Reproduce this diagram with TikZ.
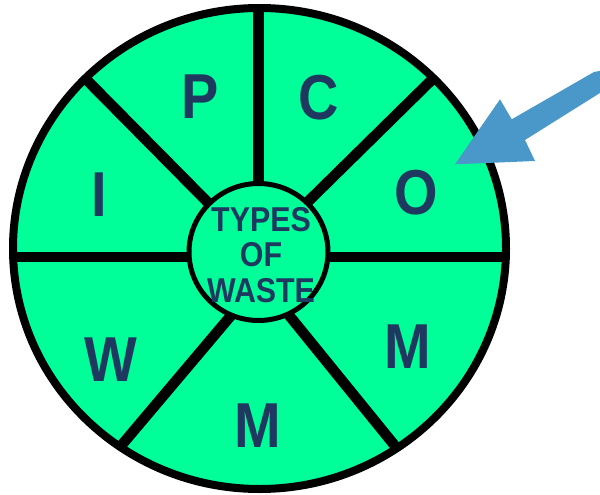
\documentclass[tikz,border=0pt]{standalone}
\usepackage{fontspec}
\newfontfamily\lbl{Liberation Sans}[FakeStretch=0.88, BoldFont=Liberation Sans Bold, BoldFeatures={FakeStretch=0.88}]
\definecolor{wheelgreen}{RGB}{0,255,153}
\definecolor{navy}{RGB}{31,56,96}
\definecolor{arrowblue}{RGB}{74,152,201}
\tikzset{
  spoke/.style={line width=10.5pt, black},
  letter/.style={inner sep=0pt, text=navy, font=\lbl\bfseries\fontsize{63.5}{63.5}\selectfont},
  hubtext/.style={inner sep=0pt, text=navy, align=center, font=\lbl\bfseries\fontsize{34.5}{35.5}\selectfont}
}
\begin{document}
\begin{tikzpicture}[x=1pt,y=-1pt]
\useasboundingbox (0,0) rectangle (600,495);
% outer wheel
\coordinate (c) at (259.5,248.5);
\coordinate (h) at (258.5,252);
\fill[wheelgreen] (c) ellipse [x radius=246.5, y radius=240.5];
\begin{scope}
  \clip (c) ellipse [x radius=246.5, y radius=240.5];
  \coordinate (v1) at (258.5,252); \coordinate (v2) at (258.5,0);
  \coordinate (hl) at (0,257); \coordinate (hr) at (520,257);
  \coordinate (ul1) at (244,239); \coordinate (ul2) at (63,56);
  \coordinate (ur1) at (274,235); \coordinate (ur2) at (454,58);
  \coordinate (ll1) at (272,267); \coordinate (ll2) at (100.6,470);
  \coordinate (lr1) at (249,266); \coordinate (lr2) at (417,473);
  \draw[spoke] (v1) -- (v2);
  \draw[spoke] (hl) -- (hr);
  \draw[spoke] (ul1) -- (ul2);
  \draw[spoke] (ur1) -- (ur2);
  \draw[spoke] (ll1) -- (ll2);
  \draw[spoke] (lr1) -- (lr2);
\end{scope}
\draw[line width=8pt] (c) ellipse [x radius=246.5, y radius=240.5];
% hub
\filldraw[fill=wheelgreen, draw=black, line width=5pt] (h) ellipse [x radius=69.5, y radius=68.5];
\node[hubtext] (hub) at (261,255) {TYPES\\OF\\WASTE};
% letters
\node[letter] (p) at (200,97) {P};
\node[letter] (co) at (319,98) {C};
\node[letter] (i) at (99,195) {I};
\node[letter] (o) at (416,193) {O};
\node[letter] (w) at (111,360) {W};
\node[letter] (m1) at (408,347) {M};
\node[letter] (m2) at (258,426) {M};
% arrow
\coordinate (a1) at (594,72);
\coordinate (a2) at (511.7,119.3);
\coordinate (a3) at (500,99.3);
\coordinate (a4) at (455,164.3);
\coordinate (a5) at (535,161);
\coordinate (a6) at (525,140);
\coordinate (a7) at (602,91.7);
\coordinate (a0) at (602,70.5);
\fill[arrowblue] (a0) -- (a1) -- (a2) -- (a3) -- (a4) -- (a5) -- (a6) -- (a7) -- cycle;
\end{tikzpicture}
\end{document}
